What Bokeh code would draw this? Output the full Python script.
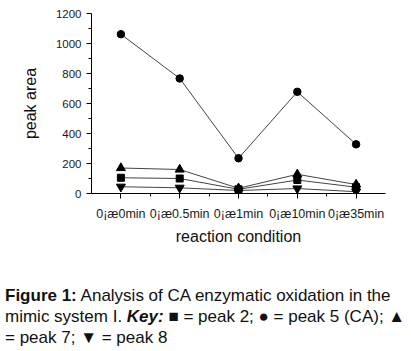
from bokeh.plotting import figure
from bokeh.models import FixedTicker, Div, ColumnDataSource
from bokeh.layouts import column
from bokeh.embed import file_html
from bokeh.resources import INLINE

categories = ["0¡æ0min", "0¡æ0.5min", "0¡æ1min", "0¡æ10min", "0¡æ35min"]
peak5 = [1062, 767, 235, 678, 328]
peak7 = [170, 160, 35, 128, 60]
peak2 = [105, 100, 28, 90, 42]
peak8 = [45, 38, 20, 33, 12]
y_ticks = [0, 200, 400, 600, 800, 1000, 1200]

xs = list(range(len(categories)))

p = figure(width=411, height=255, output_backend="svg", toolbar_location=None,
           x_range=(-0.5, len(categories) - 0.5), y_range=(0, 1200),
           min_border_left=91, min_border_right=26, min_border_top=13, min_border_bottom=62)
p.outline_line_color = None
p.grid.visible = False
p.background_fill_color = "white"
p.border_fill_color = "white"

p.xaxis.ticker = FixedTicker(ticks=xs, minor_ticks=[x + 0.5 for x in xs[:-1]])
p.xaxis.major_label_overrides = {i: c for i, c in enumerate(categories)}
p.yaxis.ticker = FixedTicker(ticks=y_ticks, minor_ticks=[t + 100 for t in y_ticks[:-1]])

for ax in (p.xaxis, p.yaxis):
    ax.axis_line_color = "black"
    ax.major_tick_line_color = "black"
    ax.minor_tick_line_color = "black"
    ax.major_tick_out = 5
    ax.major_tick_in = 0
    ax.minor_tick_out = 3
    ax.minor_tick_in = 0
    ax.major_label_text_font = "Liberation Sans"
    ax.major_label_text_color = "#1a1a1a"
    ax.axis_label_text_font = "Liberation Sans"
    ax.axis_label_text_font_size = "16px"
    ax.axis_label_text_font_style = "normal"
    ax.axis_label_text_color = "#111111"

p.yaxis.major_label_text_font_size = "11.5px"
p.xaxis.major_label_text_font_size = "12.5px"
p.xaxis.axis_label = "reaction condition"
p.yaxis.axis_label = "peak area"
p.xaxis.major_label_standoff = 8
p.xaxis.axis_label_standoff = 4
p.yaxis.axis_label_standoff = 14

src = ColumnDataSource(dict(x=xs, p5=peak5, p7=peak7, p2=peak2, p8=peak8))
lc = "#444444"
for col in ["p7", "p2", "p8", "p5"]:
    p.line("x", col, source=src, line_color=lc, line_width=1)
p.scatter("x", "p5", source=src, marker="circle", size=7.5, color="black")
p.scatter("x", "p7", source=src, marker="triangle", size=9, color="black")
p.scatter("x", "p2", source=src, marker="square", size=7, color="black")
p.scatter("x", "p8", source=src, marker="inverted_triangle", size=9, color="black")

caption = Div(text=(
    '<div style="font-family:\'Liberation Sans\',Arial,sans-serif;font-size:17px;'
    'line-height:21px;color:#111;padding:30px 0 0 5px;white-space:nowrap;">'
    '<b>Figure 1:</b> Analysis of CA enzymatic oxidation in the<br>'
    'mimic system I. <b><i>Key:</i></b> &#9632; = peak 2; &#9679; = peak 5 (CA); &#9650;<br>'
    '= peak 7; &#9660; = peak 8</div>'), width=411, height=96, margin=(0, 0, 0, 0))

layout = column(p, caption, spacing=0)
open("out.html", "w").write(file_html(layout, INLINE))
